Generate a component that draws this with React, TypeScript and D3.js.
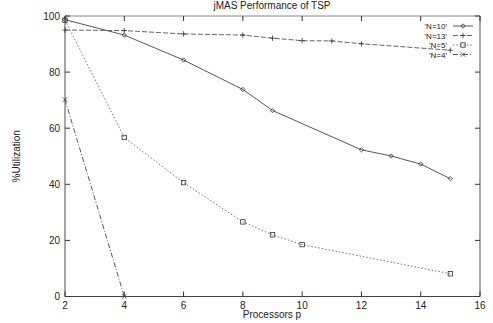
import React from "react";
import * as d3 from "d3";

const xN10 = [2, 4, 6, 8, 9, 12, 13, 14, 15];
const yN10 = [98.7, 93.2, 84.3, 73.8, 66.3, 52.3, 50.1, 47.2, 42];
const xN13 = [2, 4, 6, 8, 9, 10, 11, 12, 15];
const yN13 = [95, 94.8, 93.6, 93.2, 92.1, 91.2, 91.1, 90.1, 87.8];
const xN5 = [2, 4, 6, 8, 9, 10, 15];
const yN5 = [98.5, 56.7, 40.6, 26.6, 22, 18.5, 8.1];
const xN4 = [2, 4];
const yN4 = [70.2, 0];
const seriesNames = ["'N=10'", "'N=13'", "'N=5'", "'N=4'"];
const xTicks = [2, 4, 6, 8, 10, 12, 14, 16];
const yTicks = [0, 20, 40, 60, 80, 100];
const title = "jMAS Performance of TSP";
const xLabel = "Processors p";
const yLabel = "%Utilization";

const W = 493, H = 323;
const left = 65, right = 480, top = 16, bottom = 296.5;
const FONT = "'Liberation Sans', Arial, sans-serif";
const INK = "#333";

type Mark = "diamond" | "plus" | "square" | "cross";

function marker(kind: Mark, x: number, y: number, key: string) {
  const s = 2.2;
  if (kind === "diamond")
    return <path key={key} d={`M${x},${y - s}L${x + s},${y}L${x},${y + s}L${x - s},${y}Z`} fill="none" stroke={INK} strokeWidth={0.8} />;
  if (kind === "plus")
    return <path key={key} d={`M${x - s - 0.5},${y}H${x + s + 0.5}M${x},${y - s - 0.5}V${y + s + 0.5}`} stroke={INK} strokeWidth={0.8} />;
  if (kind === "square")
    return <rect key={key} x={x - s} y={y - s} width={2 * s} height={2 * s} fill="none" stroke={INK} strokeWidth={0.8} />;
  return <path key={key} d={`M${x - s},${y - s}L${x + s},${y + s}M${x - s},${y + s}L${x + s},${y - s}`} stroke={INK} strokeWidth={0.8} />;
}

export default function App() {
  const x = d3.scaleLinear().domain([2, 16]).range([left, right]);
  const y = d3.scaleLinear().domain([0, 100]).range([bottom, top]);
  const line = d3.line<[number, number]>().x((d) => x(d[0])).y((d) => y(d[1]));

  const series = [
    { xs: xN10, ys: yN10, mark: "diamond" as Mark, dash: "none", color: "#444" },
    { xs: xN13, ys: yN13, mark: "plus" as Mark, dash: "5,2", color: "#555" },
    { xs: xN5, ys: yN5, mark: "square" as Mark, dash: "1.5,2", color: "#666" },
    { xs: xN4, ys: yN4, mark: "cross" as Mark, dash: "5,2,1,2", color: "#444" },
  ];

  const legendY = [26, 35.5, 45, 54.5];
  const tick = 5;

  return (
    <svg width={W} height={H} style={{ position: "absolute", left: 0, top: 0, background: "#fff" }} fontFamily={FONT}>
      <rect x={0} y={0} width={W} height={H} fill="#fff" />
      <text x={272} y={9} textAnchor="middle" fontSize={10} fill="#222">{title}</text>
      <line x1={left} x2={right} y1={top} y2={top} stroke="#888" strokeWidth={1} />
      <line x1={left} x2={right} y1={bottom} y2={bottom} stroke="#444" strokeWidth={1} />
      <line x1={left} x2={left} y1={top} y2={bottom} stroke="#888" strokeWidth={1.5} />
      <line x1={right} x2={right} y1={top} y2={bottom} stroke="#888" strokeWidth={1.5} />
      {yTicks.map((t) => (
        <g key={"y" + t}>
          <line x1={left} x2={left + tick} y1={y(t)} y2={y(t)} stroke={INK} />
          <line x1={right} x2={right - tick} y1={y(t)} y2={y(t)} stroke={INK} />
          <text x={left - 5} y={y(t) + 3.5} textAnchor="end" fontSize={10} fill="#222">{t}</text>
        </g>
      ))}
      {xTicks.map((t) => (
        <g key={"x" + t}>
          <line x1={x(t)} x2={x(t)} y1={bottom} y2={bottom - tick} stroke={INK} />
          <line x1={x(t)} x2={x(t)} y1={top} y2={top + tick} stroke={INK} />
          <text x={x(t)} y={bottom + 12} textAnchor="middle" fontSize={10} fill="#222">{t}</text>
        </g>
      ))}
      <text x={272} y={318} textAnchor="middle" fontSize={10} fill="#222">{xLabel}</text>
      <text transform={`translate(20,${(top + bottom) / 2}) rotate(-90)`} textAnchor="middle" fontSize={10} fill="#222">{yLabel}</text>
      {series.map((s, i) => {
        const pts = s.xs.map((v, j) => [v, s.ys[j]] as [number, number]);
        return (
          <g key={"s" + i}>
            <path d={line(pts) || ""} fill="none" stroke={s.color} strokeWidth={0.9} strokeDasharray={s.dash} />
            {pts.map((p, j) => marker(s.mark, x(p[0]), y(p[1]), `m${i}-${j}`))}
          </g>
        );
      })}
      {series.map((s, i) => (
        <g key={"l" + i}>
          <text x={447} y={legendY[i] + 3} textAnchor="end" fontSize={8} fill="#222">{seriesNames[i]}</text>
          <line x1={453} x2={473} y1={legendY[i]} y2={legendY[i]} stroke={s.color} strokeWidth={0.9} strokeDasharray={s.dash} />
          {marker(s.mark, 463, legendY[i], `lm${i}`)}
        </g>
      ))}
    </svg>
  );
}
